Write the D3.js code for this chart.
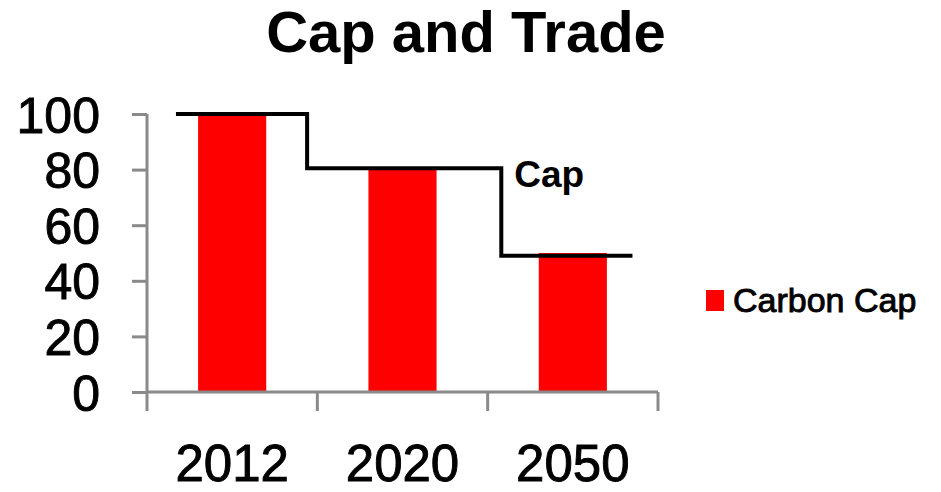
<!DOCTYPE html>
<html>
<head>
<meta charset="utf-8">
<script src="https://cdn.jsdelivr.net/npm/d3@7"></script>
<style>
  body { margin: 0; background: #fff; }
  text { font-family: "Liberation Sans", Arial, sans-serif; fill: #000; }
  .heavy { stroke: #000; stroke-width: 0.9px; }
</style>
</head>
<body>
<div id="chart"></div>
<script>
var years = ["2012", "2020", "2050"];
var carbonCap = [100, 80, 50];
// step line: levels and break points (in category index units)
var capLevels = [100, 80.5, 49];
var capBreaks = [-0.33, 0.44, 1.58, 2.35];
var yTicks = [0, 20, 40, 60, 80, 100];

var svgWidth = 941;
var svgHeight = 492;

var svg = d3.select("#chart").append("svg")
    .attr("width", svgWidth)
    .attr("height", svgHeight);

var x = d3.scaleBand()
    .domain(years)
    .range([147, 658])
    .paddingInner(0.6)
    .paddingOuter(0.3);

var y = d3.scaleLinear()
    .domain([0, 100])
    .range([392, 114]);

// category index -> pixel, for the cap line
var xi = d3.scaleLinear()
    .domain([0, 1])
    .range([x(years[0]) + x.bandwidth() / 2, x(years[1]) + x.bandwidth() / 2]);

var axisColor = "#8a8a8a";

// title
svg.append("text")
    .attr("x", 466)
    .attr("y", 52)
    .attr("text-anchor", "middle")
    .attr("font-size", "58px")
    .attr("font-weight", "bold")
    .text("Cap and Trade");

// bars
svg.selectAll(".bar")
    .data(carbonCap)
    .enter()
    .append("rect")
    .attr("class", "bar")
    .attr("x", (d, i) => x(years[i]))
    .attr("y", d => y(d))
    .attr("width", x.bandwidth())
    .attr("height", d => y(0) - y(d))
    .attr("fill", "#ff0000");

// y axis
var yAxis = svg.append("g")
    .attr("transform", "translate(147,0)")
    .call(d3.axisLeft(y).tickValues(yTicks).tickSize(15).tickPadding(32));
yAxis.selectAll("path, line").attr("stroke", axisColor).attr("stroke-width", 3);
yAxis.select(".domain").attr("d", `M0,${y(100)}V${y(0)}`);
yAxis.selectAll("text")
    .attr("class", "heavy")
    .attr("font-size", "50px")
    .attr("font-family", "Liberation Sans, Arial, sans-serif")
    .attr("fill", "#000")
    .attr("dy", "0.36em");

// x axis line and category separators
var xAxis = svg.append("g");
xAxis.append("line")
    .attr("x1", x.range()[0])
    .attr("x2", x.range()[1])
    .attr("y1", y(0))
    .attr("y2", y(0))
    .attr("stroke", axisColor)
    .attr("stroke-width", 3);
xAxis.selectAll(".sep")
    .data(d3.range(years.length + 1))
    .enter()
    .append("line")
    .attr("class", "sep")
    .attr("x1", i => x.range()[0] + i * x.step())
    .attr("x2", i => x.range()[0] + i * x.step())
    .attr("y1", y(0))
    .attr("y2", y(0) + 19)
    .attr("stroke", axisColor)
    .attr("stroke-width", 3);
xAxis.selectAll(".xlabel")
    .data(years)
    .enter()
    .append("text")
    .attr("class", "xlabel heavy")
    .attr("x", d => x(d) + x.bandwidth() / 2)
    .attr("y", 481)
    .attr("text-anchor", "middle")
    .attr("font-size", "51px")
    .text(d => d);

// cap step line
var capPoints = [];
capLevels.forEach(function (v, i) {
    capPoints.push([xi(capBreaks[i]), y(v)]);
    capPoints.push([xi(capBreaks[i + 1]), y(v)]);
});
svg.append("path")
    .attr("d", d3.line()(capPoints))
    .attr("fill", "none")
    .attr("stroke", "#000")
    .attr("stroke-width", 4);

svg.append("text")
    .attr("x", xi(capBreaks[2]) + 13)
    .attr("y", 187)
    .attr("font-size", "37px")
    .attr("font-weight", "bold")
    .text("Cap");

// legend
var legend = svg.append("g").attr("transform", "translate(706,290)");
legend.append("rect")
    .attr("width", 18)
    .attr("height", 21)
    .attr("fill", "#ff0000");
legend.append("text")
    .attr("class", "heavy")
    .attr("x", 27)
    .attr("y", 22)
    .attr("font-size", "34px")
    .text("Carbon Cap");
</script>
</body>
</html>
